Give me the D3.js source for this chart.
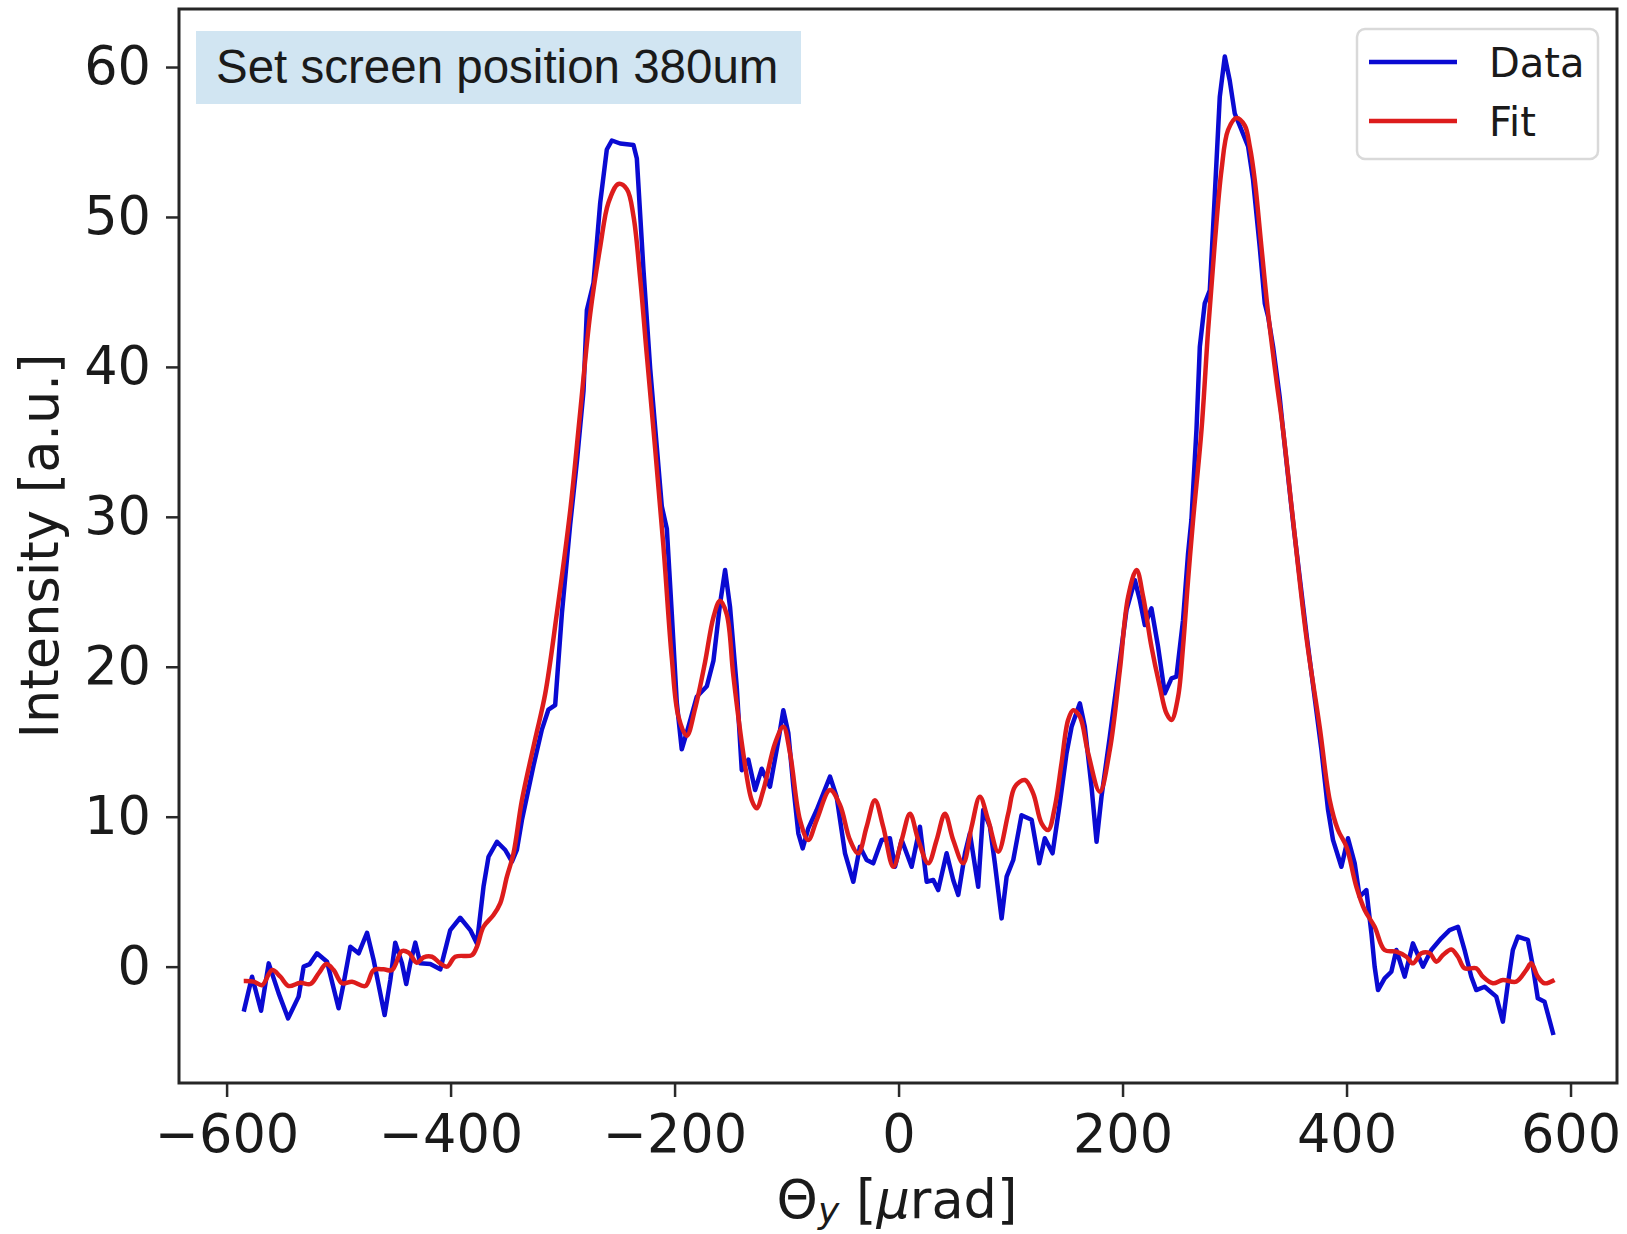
<!DOCTYPE html>
<html>
<head>
<meta charset="utf-8">
<script src="https://cdn.jsdelivr.net/npm/d3@7"></script>
<style>
	body { margin: 0; background: #fff; }
	svg text { font-family: "DejaVu Sans", sans-serif; fill: #1a1a1a; }
</style>
</head>
<body>
<div id="graph"></div>
<script>
const data_x = [-584.7, -577.3, -569.2, -562.4, -553.5, -545.1, -535.7, -531.2, -525.8, -519.3,
	-510.3, -500.0, -495.5, -489.5, -482.1, -474.6, -468.7, -458.9, -453.8, -449.4,
	-443.4, -439.6, -436.0, -431.5, -427.0, -418.1, -409.2, -400.3, -391.4, -382.4,
	-376.5, -370.6, -366.1, -358.6, -351.2, -345.2, -340.8, -336.3, -325.9, -318.5,
	-312.6, -306.6, -300.6, -293.2, -287.2, -281.3, -278.3, -272.4, -266.4, -260.5,
	-256.0, -248.6, -236.7, -233.7, -227.8, -221.8, -215.8, -211.4, -206.9, -202.5,
	-198.0, -193.6, -187.6, -180.2, -171.2, -165.3, -159.4, -154.9, -150.5, -144.5,
	-140.0, -134.1, -128.1, -122.2, -114.8, -107.3, -102.9, -98.4, -93.9, -89.5,
	-85.6, -80.6, -73.1, -61.2, -55.3, -47.8, -40.4, -34.5, -28.5, -22.6,
	-15.1, -7.7, -3.2, 2.8, 11.7, 19.1, 25.1, 31.0, 35.4, 42.9,
	48.8, 53.3, 59.3, 63.7, 71.1, 75.6, 81.6, 86.0, 92.0, 96.5,
	102.4, 109.8, 118.8, 125.6, 130.6, 137.5, 144.0, 150.0, 154.5, 161.9,
	166.3, 172.3, 176.8, 181.2, 188.6, 196.1, 203.5, 211.0, 215.4, 219.9,
	225.8, 231.7, 237.7, 243.7, 248.1, 254.0, 258.5, 261.5, 266.0, 269.0,
	273.4, 277.9, 282.3, 286.8, 291.3, 295.7, 300.2, 306.2, 312.1, 316.5,
	322.5, 327.0, 330.0, 334.4, 340.3, 343.3, 352.5, 364.5, 377.6, 383.5,
	387.9, 395.4, 401.3, 407.3, 411.7, 417.7, 422.2, 425.1, 428.1, 434.0,
	440.0, 444.5, 451.9, 459.3, 468.2, 475.7, 484.6, 492.0, 499.5, 505.4,
	511.4, 515.8, 523.3, 533.7, 539.6, 544.1, 548.5, 553.0, 561.9, 566.4,
	570.8, 576.8, 584.8];
const data_y = [-3.0, -0.67, -2.94, 0.22, -1.78, -3.45, -2.0, 0.0, 0.17, 0.89,
	0.33, -2.78, -1.11, 1.33, 0.89, 2.26, 0.44, -3.23, -0.89, 1.6,
	0.22, -1.16, 0.22, 1.6, 0.22, 0.17, -0.18, 2.44, 3.26, 2.44,
	1.55, 5.33, 7.33, 8.33, 7.78, 7.0, 7.78, 9.78, 13.43, 15.81,
	17.15, 17.45, 23.56, 29.5, 33.7, 38.4, 43.8, 45.6, 50.95, 54.5,
	55.1, 54.9, 54.8, 53.9, 46.5, 39.9, 34.6, 30.7, 29.2, 23.56,
	17.6, 14.5, 16.0, 18.0, 18.7, 20.4, 24.2, 26.45, 24.0, 18.67,
	13.1, 13.8, 11.78, 13.2, 12.0, 15.1, 17.1, 15.56, 12.0, 8.89,
	7.89, 9.22, 10.45, 12.67, 11.33, 7.56, 5.66, 8.0, 7.11, 6.89,
	8.45, 8.56, 6.66, 8.45, 6.66, 9.33, 5.66, 5.78, 5.11, 7.56,
	5.78, 4.78, 7.56, 8.89, 5.33, 10.45, 9.33, 6.89, 3.22, 6.0,
	7.11, 10.1, 9.8, 6.89, 8.56, 7.56, 10.9, 14.23, 16.0, 17.56,
	16.0, 12.0, 8.33, 11.33, 15.33, 19.56, 23.78, 25.78, 24.45, 22.78,
	23.9, 21.34, 18.23, 19.23, 19.34, 23.1, 27.56, 29.8, 35.8, 41.35,
	44.24, 45.1, 51.35, 58.0, 60.7, 59.1, 56.9, 55.8, 54.7, 52.5,
	48.0, 44.24, 43.35, 41.35, 38.0, 35.8, 29.5, 22.0, 14.45, 10.45,
	8.45, 6.66, 8.56, 6.89, 4.66, 5.11, 2.22, 0.0, -1.56, -0.78,
	-0.34, 1.11, -0.67, 1.55, 0.0, 1.11, 1.89, 2.44, 2.66, 1.11,
	-0.67, -1.56, -1.34, -2.0, -3.67, -1.11, 1.11, 2.0, 1.78, 0.0,
	-2.11, -2.34, -4.56];

const fit_x = [-584.7, -575.8, -568.3, -559.4, -552.0, -544.6, -534.2, -525.2, -517.8, -510.9,
	-504.4, -496.9, -488.0, -476.1, -468.7, -459.8, -452.3, -443.4, -437.5, -430.0,
	-424.1, -416.6, -409.2, -403.2, -395.8, -380.9, -376.5, -370.6, -361.7, -355.7,
	-349.7, -343.8, -336.3, -324.4, -315.5, -305.1, -293.2, -284.3, -275.4, -266.4,
	-259.0, -250.1, -242.6, -236.7, -230.7, -224.8, -217.4, -209.9, -202.5, -196.6,
	-189.1, -181.7, -172.8, -165.3, -159.4, -153.4, -147.5, -138.6, -131.1, -126.7,
	-120.7, -110.3, -102.9, -96.9, -88.0, -80.6, -73.1, -61.2, -52.3, -43.4,
	-36.0, -28.5, -21.1, -13.7, -4.7, 2.8, 10.2, 17.6, 26.5, 34.0,
	41.4, 48.8, 57.7, 65.2, 72.6, 80.0, 89.0, 97.9, 103.9, 112.8,
	120.2, 127.7, 133.6, 139.6, 145.5, 151.4, 155.9, 161.9, 169.3, 179.7,
	188.6, 197.6, 205.0, 212.5, 218.4, 225.8, 233.3, 239.2, 243.7, 249.6,
	254.0, 258.5, 263.0, 270.5, 276.4, 282.3, 288.3, 294.2, 301.7, 309.1,
	313.6, 318.0, 324.0, 330.0, 337.4, 343.3, 352.2, 364.1, 376.0, 385.0,
	392.4, 399.9, 408.8, 416.2, 425.1, 434.0, 444.5, 453.4, 459.3, 466.8,
	474.2, 480.2, 486.1, 493.6, 499.5, 505.4, 515.8, 521.8, 530.7, 539.6,
	551.5, 560.4, 564.9, 570.8, 576.8, 585.7];
const fit_y = [-0.96, -1.0, -1.23, -0.23, -0.67, -1.29, -1.07, -1.16, -0.45, 0.17,
	-0.23, -1.11, -1.0, -1.29, -0.23, -0.18, -0.23, 1.04, 0.93, 0.26,
	0.62, 0.66, 0.22, 0.0, 0.66, 0.77, 1.33, 2.66, 3.44, 4.22,
	6.0, 7.56, 11.1, 15.2, 18.2, 23.56, 30.4, 36.96, 43.5, 48.0,
	50.96, 52.2, 51.85, 50.06, 45.9, 40.8, 34.6, 28.0, 20.6, 16.7,
	15.4, 17.2, 20.3, 23.3, 24.4, 23.5, 19.4, 14.2, 11.1, 10.56,
	11.78, 14.9, 16.0, 14.23, 9.78, 8.45, 9.78, 11.78, 10.78, 8.45,
	7.56, 9.33, 11.1, 9.33, 6.66, 8.45, 10.2, 8.45, 6.89, 8.45,
	10.2, 8.45, 6.89, 9.33, 11.33, 9.78, 7.67, 10.2, 12.0, 12.45,
	11.56, 9.56, 9.11, 10.67, 13.56, 16.45, 17.1, 16.67, 14.23, 11.67,
	14.45, 19.78, 24.67, 26.45, 24.67, 21.34, 18.67, 16.9, 16.45, 18.0,
	21.34, 25.78, 29.8, 35.8, 42.46, 48.2, 53.1, 55.8, 56.6, 56.1,
	54.7, 52.5, 48.0, 43.57, 39.1, 35.8, 29.8, 22.0, 16.0, 11.1,
	9.11, 8.0, 5.33, 3.78, 2.66, 1.11, 1.0, 0.66, 0.22, 0.89,
	0.89, 0.33, 0.77, 1.15, 0.66, -0.11, -0.11, -0.67, -1.11, -0.89,
	-1.0, -0.23, 0.22, -0.67, -1.11, -0.89];

const x_ticks = [-600, -400, -200, 0, 200, 400, 600];
const y_ticks = [0, 10, 20, 30, 40, 50, 60];
const series_names = ["Data", "Fit"];
const series_colors = ["#0a0ad2", "#dd1c1c"];
const note_text = "Set screen position 380um";

const width = 1627, height = 1234;
const frame = {left: 179, right: 1617, top: 9, bottom: 1083};
const label_size = 52.5;

let svg = d3.select("#graph").append("svg")
	.attr("width", width).attr("height", height);

// scales, with matplotlib-like 5% margins around the data
let x = d3.scaleLinear().domain([-642.5, 641.5]).range([frame.left, frame.right]);
let y = d3.scaleLinear().domain([-7.76, 63.87]).range([frame.bottom, frame.top]);

// x axis
let xaxis = svg.append("g")
	.attr("transform", `translate(0, ${frame.bottom})`)
	.call(d3.axisBottom(x).tickValues(x_ticks).tickSize(14).tickPadding(17.5));
// y axis
let yaxis = svg.append("g")
	.attr("transform", `translate(${frame.left}, 0)`)
	.call(d3.axisLeft(y).tickValues(y_ticks).tickSize(13).tickPadding(15));

[xaxis, yaxis].forEach(function(g){
	g.select(".domain").remove();
	g.selectAll(".tick line").attr("stroke", "#2a2a2a").attr("stroke-width", 2.5);
	g.selectAll(".tick text")
		.attr("font-family", "DejaVu Sans")
		.attr("font-size", label_size)
		.attr("fill", "#1a1a1a");
});

// lines
let line = d3.line()
	.x((d) => x(d[0]))
	.y((d) => y(d[1]));
let smooth = d3.line()
	.x((d) => x(d[0]))
	.y((d) => y(d[1]))
	.curve(d3.curveCatmullRom.alpha(0.5));

svg.append("path")
	.datum(d3.zip(data_x, data_y))
	.attr("d", line)
	.attr("fill", "none")
	.attr("stroke", series_colors[0])
	.attr("stroke-width", 4.5)
	.attr("stroke-linejoin", "round");

svg.append("path")
	.datum(d3.zip(fit_x, fit_y))
	.attr("d", smooth)
	.attr("fill", "none")
	.attr("stroke", series_colors[1])
	.attr("stroke-width", 4.5)
	.attr("stroke-linejoin", "round");

// frame around the axes
svg.append("rect")
	.attr("x", frame.left).attr("y", frame.top)
	.attr("width", frame.right - frame.left).attr("height", frame.bottom - frame.top)
	.attr("fill", "none")
	.attr("stroke", "#262626")
	.attr("stroke-width", 3);

// annotation box
svg.append("rect")
	.attr("x", 196).attr("y", 31).attr("width", 605).attr("height", 73)
	.attr("fill", "#d1e5f2");
svg.append("text")
	.attr("x", 216).attr("y", 83)
	.style("font-family", "'Liberation Sans', Arial, sans-serif")
	.attr("font-size", 47.5)
	.attr("fill", "#000")
	.text(note_text);

// legend
let legend = svg.append("g");
legend.append("rect")
	.attr("x", 1357).attr("y", 29).attr("width", 241).attr("height", 130)
	.attr("rx", 8)
	.attr("fill", "#fff").attr("fill-opacity", 0.8)
	.attr("stroke", "#d9d9d9").attr("stroke-width", 2.5);
series_names.forEach(function(name, i){
	let ly = 62 + i * 59;
	legend.append("line")
		.attr("x1", 1369).attr("x2", 1457)
		.attr("y1", ly).attr("y2", ly)
		.attr("stroke", series_colors[i]).attr("stroke-width", 4.5);
	legend.append("text")
		.attr("x", 1489).attr("y", ly + 15)
		.attr("font-size", 40)
		.text(name);
});

// axis labels
let xlabel = svg.append("text")
	.attr("x", 897).attr("y", 1218)
	.attr("text-anchor", "middle")
	.attr("font-size", label_size);
xlabel.append("tspan").text("\u0398");
xlabel.append("tspan").attr("font-size", 36).attr("font-style", "italic").attr("dy", 5).text("y");
xlabel.append("tspan").attr("dy", -5).text(" [");
xlabel.append("tspan").attr("font-style", "italic").text("\u03bc");
xlabel.append("tspan").text("rad]");

svg.append("text")
	.attr("transform", "translate(58, 546) rotate(-90)")
	.attr("text-anchor", "middle")
	.attr("font-size", label_size)
	.text("Intensity [a.u.]");
</script>
</body>
</html>
